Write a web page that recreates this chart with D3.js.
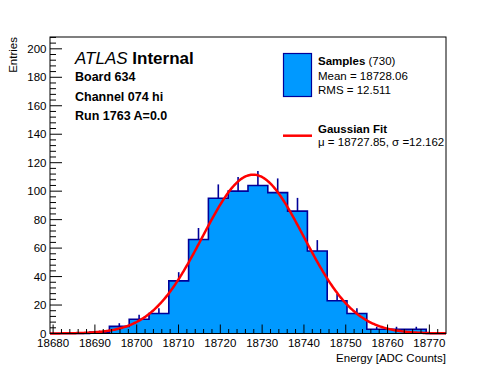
<!DOCTYPE html>
<html>
<head>
<meta charset="utf-8">
<script src="https://cdn.jsdelivr.net/npm/d3@7"></script>
<style>
  html, body { margin: 0; padding: 0; background: #fff; }
  svg { display: block; font-family: "Liberation Sans", Arial, Helvetica, sans-serif; }
</style>
</head>
<body>
<svg id="chart" width="496" height="372"></svg>
<script>
// ---- data ----
const xLow = 18679.26;          // histogram lower edge
const binWidth = 4.736;         // bin width
const counts = [0, 0, 1, 5, 10, 14, 37, 66, 95, 100, 104, 99, 86, 58, 23, 14, 3, 3, 3, 0];
const xTickValues = [18680, 18690, 18700, 18710, 18720, 18730, 18740, 18750, 18760, 18770];
const yTickValues = [0, 20, 40, 60, 80, 100, 120, 140, 160, 180, 200];
const yMax = 208.3;
const fitMu = 18727.85;
const fitSigma = 12.162;
const fitAmp = 111.6;
const headerLines = ["Board 634", "Channel 074 hi", "Run 1763 A=0.0"];
const legendSamples = { name: "Samples", n: "(730)", mean: "Mean = 18728.06", rms: "RMS = 12.511" };
const legendFit = { name: "Gaussian Fit", params: "\u03bc = 18727.85, \u03c3 =12.162" };

// ---- layout ----
const L = 50, R = 446, T = 37, B = 333.5;
const fillCol = "#0099ff", lineCol = "#000099", fitCol = "#ff0000";
const svg = d3.select("#chart");

const xHigh = xLow + binWidth * counts.length;
const x = d3.scaleLinear().domain([xLow, xHigh]).range([L, R]);
const y = d3.scaleLinear().domain([0, yMax]).range([B, T]);

const bins = counts.map((c, i) => ({ x0: xLow + i * binWidth, x1: xLow + (i + 1) * binWidth, c }));

// error bars (upper part)
svg.append("g").selectAll("line").data(bins.filter(d => d.c > 0)).join("line")
  .attr("x1", d => x((d.x0 + d.x1) / 2)).attr("x2", d => x((d.x0 + d.x1) / 2))
  .attr("y1", d => y(d.c)).attr("y2", d => y(d.c + Math.sqrt(d.c)))
  .attr("stroke", lineCol).attr("stroke-width", 1.6);

// histogram fill + outline (step)
const stepPts = [[xLow, 0]];
bins.forEach(d => { stepPts.push([d.x0, d.c]); stepPts.push([d.x1, d.c]); });
stepPts.push([xHigh, 0]);
const stepLine = d3.line().x(p => x(p[0])).y(p => y(p[1]));
svg.append("path").attr("d", stepLine(stepPts) + "Z").attr("fill", fillCol).attr("stroke", "none");
svg.append("path").attr("d", stepLine(stepPts.slice(1, -1))).attr("fill", "none")
  .attr("stroke", lineCol).attr("stroke-width", 1.6);

// fit curve (evaluated from the fit parameters)
const fitX = d3.range(0, 401).map(i => xLow + (xHigh - xLow) * i / 400);
svg.append("path")
  .attr("d", d3.line().x(v => x(v)).y(v => y(fitAmp * Math.exp(-0.5 * Math.pow((v - fitMu) / fitSigma, 2))))(fitX))
  .attr("fill", "none").attr("stroke", fitCol).attr("stroke-width", 2.5);

// frame
svg.append("rect").attr("x", L).attr("y", T).attr("width", R - L).attr("height", B - T)
  .attr("fill", "none").attr("stroke", "#000").attr("stroke-width", 1);

// x axis ticks (inward)
const xMinor = d3.range(18680, xHigh, 2);
const gx = svg.append("g");
gx.selectAll("line.minor").data(xMinor).join("line")
  .attr("x1", d => x(d)).attr("x2", d => x(d))
  .attr("y1", B).attr("y2", d => B - (xTickValues.includes(d) ? 9 : 4.5))
  .attr("stroke", "#000").attr("stroke-width", 1);
gx.selectAll("text").data(xTickValues).join("text")
  .attr("x", d => x(d)).attr("y", 346.5).attr("text-anchor", "middle")
  .attr("font-size", 11.5).text(d => d);
svg.append("text").attr("x", R).attr("y", 362).attr("text-anchor", "end")
  .attr("font-size", 11.5).text("Energy [ADC Counts]");

// y axis ticks (inward)
const yMinor = d3.range(0, yMax, 4);
const gy = svg.append("g");
gy.selectAll("line").data(yMinor).join("line")
  .attr("x1", L).attr("x2", d => L + (yTickValues.includes(d) ? 12 : 6))
  .attr("y1", d => y(d)).attr("y2", d => y(d))
  .attr("stroke", "#000").attr("stroke-width", 1);
gy.selectAll("text").data(yTickValues).join("text")
  .attr("x", 46.5).attr("y", d => y(d)).attr("dy", "0.36em").attr("text-anchor", "end")
  .attr("font-size", 11.5).text(d => d);
svg.append("text").attr("transform", `translate(16.5,${T}) rotate(-90)`).attr("text-anchor", "end")
  .attr("font-size", 11.5).text("Entries");

// header
const h = svg.append("text").attr("x", 75).attr("y", 64).attr("font-size", 17);
h.append("tspan").attr("font-style", "italic").text("ATLAS");
h.append("tspan").attr("font-weight", "bold").text(" Internal");
headerLines.forEach((t, i) => {
  svg.append("text").attr("x", 75).attr("y", 81 + i * 19.5).attr("font-size", 12.5)
    .attr("font-weight", "bold").text(t);
});

// legend
svg.append("rect").attr("x", 283.5).attr("y", 53.5).attr("width", 28).attr("height", 43)
  .attr("fill", fillCol).attr("stroke", lineCol).attr("stroke-width", 1.2);
const s1 = svg.append("text").attr("x", 318).attr("y", 65).attr("font-size", 11.5);
s1.append("tspan").attr("font-weight", "bold").text(legendSamples.name);
s1.append("tspan").text(" " + legendSamples.n);
svg.append("text").attr("x", 318).attr("y", 79.5).attr("font-size", 11.5).text(legendSamples.mean);
svg.append("text").attr("x", 318).attr("y", 93.5).attr("font-size", 11.5).text(legendSamples.rms);

svg.append("line").attr("x1", 283).attr("x2", 312).attr("y1", 135.7).attr("y2", 135.7)
  .attr("stroke", fitCol).attr("stroke-width", 2.5);
svg.append("text").attr("x", 318).attr("y", 132.5).attr("font-size", 11.5).attr("font-weight", "bold").text(legendFit.name);
svg.append("text").attr("x", 318).attr("y", 145.5).attr("font-size", 11.5).text(legendFit.params);
</script>
</body>
</html>
